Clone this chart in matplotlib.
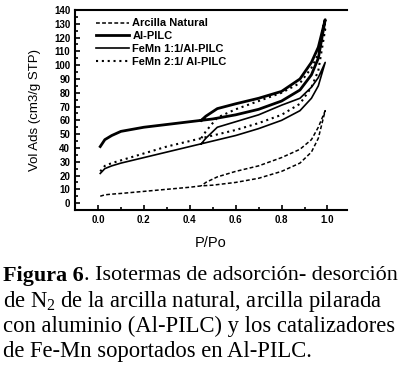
import matplotlib
matplotlib.use("Agg")
import matplotlib.pyplot as plt
from matplotlib.ticker import MultipleLocator

plt.rcParams['font.family'] = ['Liberation Sans', 'DejaVu Sans']
plt.rcParams['mathtext.fontset'] = 'custom'
plt.rcParams['mathtext.rm'] = 'Liberation Serif'
plt.rcParams['mathtext.bf'] = 'Liberation Serif:bold'

# ---- data ----
p_ads = [0.01, 0.03, 0.06, 0.1, 0.2, 0.3, 0.4, 0.45, 0.5, 0.6, 0.7, 0.8, 0.88, 0.93, 0.96, 0.99]
p_des = [0.99, 0.96, 0.93, 0.88, 0.8, 0.7, 0.6, 0.52, 0.47, 0.45]

natural_ads = [5, 6, 6.5, 7, 8.5, 10, 11.5, 12.5, 13, 15, 18, 23, 29, 37, 47, 67]
natural_des = [67, 55, 46, 39, 33, 27, 23, 19, 15, 12.5]

alpilc_ads = [41, 46, 49, 52, 55, 57, 59, 60, 61, 64, 68, 74, 82, 93, 105, 133]
alpilc_des = [133, 113, 102, 90, 81, 76, 72, 68.5, 63, 60]

femn11_ads = [21.5, 25, 27, 29, 33, 37, 41, 43, 45, 49, 54, 60, 67, 76, 85, 102]
femn11_des = [102, 91, 84, 76, 71, 64, 59, 55, 47, 43]

femn21_ads = [23, 27, 29, 31, 36, 41, 45, 47, 49, 53, 58, 64, 72, 84, 96, 126]
femn21_des = [126, 108, 98, 87, 80, 74, 68, 62, 52, 47]

labels = ['Arcilla Natural', 'Al-PILC', 'FeMn 1:1/Al-PILC', 'FeMn 2:1/ Al-PILC']

fig = plt.figure(figsize=(4.04, 3.71), dpi=100)
ax = fig.add_axes([75/404, 1-210/371, 272/404, 200/371])

styles = [
    dict(color='black', lw=1.1, ls=(0, (2.5, 1.5))),
    dict(color='black', lw=2.0, ls='-'),
    dict(color='black', lw=1.2, ls='-'),
    dict(color='black', lw=1.5, ls=(0, (1, 1.8))),
]
series = [(natural_ads, natural_des), (alpilc_ads, alpilc_des),
          (femn11_ads, femn11_des), (femn21_ads, femn21_des)]

for (a, d), st, lab in zip(series, styles, labels):
    ax.plot(p_ads + p_des, a + d, label=lab, **st)

ax.set_xlim(-0.1, 1.085)
ax.set_ylim(-5, 140)
ax.xaxis.set_major_locator(MultipleLocator(0.2))
ax.xaxis.set_minor_locator(MultipleLocator(0.1))
ax.yaxis.set_major_locator(MultipleLocator(10))
ax.yaxis.set_minor_locator(MultipleLocator(5))
ax.set_xticks([0.0, 0.2, 0.4, 0.6, 0.8, 1.0])
ax.set_xticklabels(['0.0', '0.2', '0.4', '0.6', '0.8', '1.0'])
ax.tick_params(which='both', direction='in', labelsize=7, width=1.2)
ax.tick_params(which='major', length=3.5)
ax.tick_params(which='minor', length=2)
for lbl in ax.get_xticklabels() + ax.get_yticklabels():
    lbl.set_fontweight('bold')
for s in ['left', 'bottom', 'top']:
    ax.spines[s].set_linewidth(1.5)
ax.spines['right'].set_visible(False)

ax.set_xlabel('P/Po', fontsize=10.5, labelpad=8)
ax.set_ylabel('Vol Ads (cm3/g STP)', fontsize=9.5, labelpad=9)

leg = ax.legend(loc='upper left', bbox_to_anchor=(0.06, 0.98), frameon=False,
                fontsize=8, handlelength=3.0, handletextpad=0.3,
                labelspacing=0.25, borderaxespad=0)
for t in leg.get_texts():
    t.set_fontweight('bold')

# caption
cap_fs = 16.3
y0 = 1 - 276/371
renderer = fig.canvas.get_renderer()

def first_line(fs):
    tb = fig.text(3/404, y0, "Figura 6", fontsize=fs, family='Liberation Serif',
                  fontweight='bold', va='center', ha='left')
    bb = tb.get_window_extent(renderer=renderer)
    tr = fig.text(bb.x1/fig.bbox.width, y0, ". Isotermas de adsorción- desorción",
                  fontsize=fs, family='Liberation Serif', va='center', ha='left')
    return tb, tr

tb, tr = first_line(cap_fs)
right = tr.get_window_extent(renderer=renderer).x1
if right > 400:
    tb.remove(); tr.remove()
    first_line(cap_fs * 398.0 / right)

cap_lines = [
    r"de $\mathregular{N_2}$ de la arcilla natural, arcilla pilarada",
    "con aluminio (Al-PILC) y los catalizadores",
    "de Fe-Mn soportados en Al-PILC.",
]
for i, line in enumerate(cap_lines):
    fig.text(3/404, 1 - (276 + 25*(i+1))/371, line, fontsize=cap_fs,
             family='Liberation Serif', va='center', ha='left')

fig.savefig('out.png', dpi=100)
